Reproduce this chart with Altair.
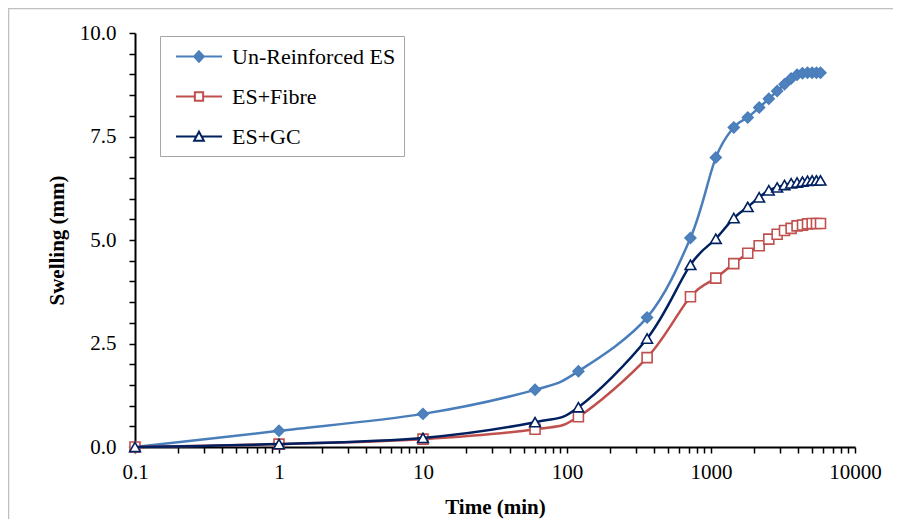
import altair as alt
import pandas as pd

# ---------------- data ----------------
time_min = [0.1, 1, 10, 60, 120, 360, 720, 1080, 1440, 1800, 2160, 2520,
            2880, 3240, 3600, 3960, 4320, 4680, 5040, 5400, 5760]
unreinforced = [0.00, 0.39, 0.80, 1.38, 1.83, 3.13, 5.05, 6.99, 7.72, 7.96, 8.20,
                8.41, 8.60, 8.76, 8.90, 8.99, 9.03, 9.04, 9.04, 9.04, 9.04]
fibre = [0.00, 0.07, 0.19, 0.43, 0.73, 2.16, 3.63, 4.08, 4.43, 4.68, 4.86,
         5.02, 5.14, 5.23, 5.28, 5.34, 5.36, 5.39, 5.40, 5.40, 5.40]
gc = [0.00, 0.07, 0.22, 0.60, 0.96, 2.62, 4.40, 5.03, 5.53, 5.80, 6.03,
      6.20, 6.27, 6.33, 6.37, 6.39, 6.41, 6.43, 6.44, 6.44, 6.44]

series_names = ["Un-Reinforced ES", "ES+Fibre", "ES+GC"]
series_values = [unreinforced, fibre, gc]
line_colors = ["#4A7EBB", "#C0504D", "#002060"]
marker_fills = ["#4F81BD", "white", "white"]
marker_shapes = ["diamond", "square", "triangle-up"]

y_tick_values = [0, 0.5, 1, 1.5, 2, 2.5, 3, 3.5, 4, 4.5, 5, 5.5, 6, 6.5, 7,
                 7.5, 8, 8.5, 9, 9.5, 10]
x_tick_values = [0.1, 0.2, 0.3, 0.4, 0.5, 0.6, 0.7, 0.8, 0.9,
                 1, 2, 3, 4, 5, 6, 7, 8, 9,
                 10, 20, 30, 40, 50, 60, 70, 80, 90,
                 100, 200, 300, 400, 500, 600, 700, 800, 900,
                 1000, 2000, 3000, 4000, 5000, 6000, 7000, 8000, 9000,
                 10000]

# legend symbols: line segment with marker in the middle (custom SVG paths)
legend_paths = [
    "M-1,0H3M1,-0.45L1.42,0L1,0.45L0.58,0Z",
    "M-1,0H0.64M1.36,0H3M0.64,-0.36H1.36V0.36H0.64Z",
    "M-1,0H0.77M1.23,0H3M1,-0.42L1.42,0.36H0.58Z",
]

rows = []
for name, vals in zip(series_names, series_values):
    for t, v in zip(time_min, vals):
        rows.append({"series": name, "time": t, "swelling": v})
df = pd.DataFrame(rows)

FONT = "Liberation Serif, Times New Roman, serif"

x_enc = alt.X(
    "time:Q",
    scale=alt.Scale(type="log", domain=[0.1, 10000]),
    axis=alt.Axis(
        values=x_tick_values,
        labelExpr="abs(log(datum.value)/LN10 - round(log(datum.value)/LN10)) < 1e-6 ? format(datum.value, '~g') : ''",
        labelOverlap=False,
        labelFlush=False,
        grid=False,
        tickSize=6,
        labelPadding=8,
        titlePadding=14,
    ),
    title="Time (min)",
)
y_enc = alt.Y(
    "swelling:Q",
    scale=alt.Scale(domain=[0, 10], nice=False, zero=True),
    axis=alt.Axis(
        values=y_tick_values,
        labelExpr="datum.value % 2.5 == 0 ? format(datum.value, '.1f') : ''",
        labelOverlap=False,
        grid=False,
        tickSize=6,
        labelPadding=13,
        titlePadding=12,
    ),
    title="Swelling (mm)",
)

layers = []
for name, color, fill, shape in zip(series_names, line_colors, marker_fills, marker_shapes):
    base = alt.Chart(df).transform_filter(alt.datum.series == name)
    line = base.mark_line(interpolate="cardinal", strokeWidth=2.5, color=color).encode(
        x=x_enc, y=y_enc
    )
    size = 100 if shape == "square" else 115
    pts = base.mark_point(
        shape=shape, size=size, fill=fill, stroke=color, strokeWidth=1.6,
        filled=False, opacity=1, fillOpacity=1,
    ).encode(x=x_enc, y=y_enc)
    layers += [line, pts]

legend_def = alt.Legend(
    title=None,
    orient="none",
    legendX=25,
    legendY=3,
    strokeColor="#A6A6A6",
    padding=8,
    labelFont=FONT,
    labelFontSize=22,
    labelColor="black",
    labelLimit=0,
    labelOffset=32,
    symbolOffset=7,
    rowPadding=16,
    symbolStrokeWidth=2,
    symbolSize=529,
)
legend_layer = alt.Chart(df).transform_filter("datum.time < 0").mark_point(
    size=529, strokeWidth=2, filled=False, opacity=1, fillOpacity=1
).encode(
    shape=alt.Shape("series:N", scale=alt.Scale(domain=series_names, range=legend_paths),
                    legend=legend_def),
    stroke=alt.Stroke("series:N", scale=alt.Scale(domain=series_names, range=line_colors),
                      legend=legend_def),
    fill=alt.Fill("series:N", scale=alt.Scale(domain=series_names, range=marker_fills),
                  legend=legend_def),
)

# chart-area frame (decoration)
frame = alt.Chart(pd.DataFrame({"k": [0]})).mark_rect(
    fill=None, stroke="#BFBFBF", strokeWidth=1.5
).encode(
    x=alt.value(-126.5), x2=alt.value(900), y=alt.value(-24.5), y2=alt.value(600)
)

chart = alt.layer(frame, *layers, legend_layer).properties(
    width=720,
    height=414,
    autosize=alt.AutoSizeParams(type="none"),
    padding={"left": 127, "top": 25, "right": 38, "bottom": 72},
).configure_view(stroke=None).configure_axis(
    labelFont=FONT,
    labelFontSize=21,
    labelColor="black",
    titleFont=FONT,
    titleFontSize=21,
    titleFontWeight="bold",
    titleColor="black",
    domainColor="black",
    domainWidth=2,
    tickColor="black",
    tickWidth=1.5,
)

chart.save("out.html", embed_options={"renderer": "svg", "actions": False})
